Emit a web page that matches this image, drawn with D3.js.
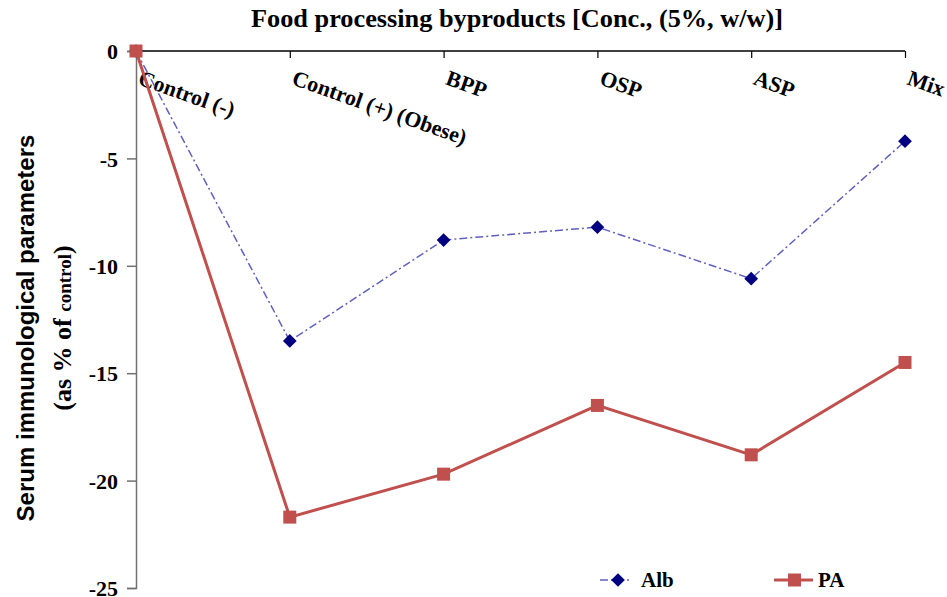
<!DOCTYPE html>
<html><head><meta charset="utf-8">
<script src="https://cdn.jsdelivr.net/npm/d3@7"></script>
<style>body{margin:0;background:#fff}svg{display:block}</style>
</head><body>
<svg id="c" width="947" height="597"></svg>
<script>
const categories = ["Control (-)", "Control (+) (Obese)", "BPP", "OSP", "ASP", "Mix"];
const albValues = [0, -13.5, -8.8, -8.2, -10.6, -4.2];
const paValues = [0, -21.7, -19.7, -16.5, -18.8, -14.5];
const yTicks = [0, -5, -10, -15, -20, -25];

const svg = d3.select("#c");
const x = d3.scalePoint().domain(categories).range([136, 905]).padding(0);
const y = d3.scaleLinear().domain([-25, 0]).range([588, 51]);

// title
svg.append("text").attr("x", 517).attr("y", 27).attr("text-anchor", "middle")
  .attr("font-family", "Liberation Serif").attr("font-weight", "bold").attr("font-size", 26)
  .attr("textLength", 532).attr("lengthAdjust", "spacingAndGlyphs")
  .text("Food processing byproducts [Conc., (5%, w/w)]");

// y axis
const yAxis = svg.append("g").attr("transform", "translate(136,0)")
  .call(d3.axisLeft(y).tickValues(yTicks).tickSize(9).tickPadding(9).tickFormat(d3.format("d")));
yAxis.select(".domain").attr("stroke", "#707070").attr("stroke-width", 1.5);
yAxis.selectAll(".tick line").attr("stroke", "#707070").attr("stroke-width", 1.5);
yAxis.selectAll(".tick text").attr("font-family", "Liberation Serif").attr("font-weight", "bold")
  .attr("font-size", 22).attr("fill", "#000").attr("dy", "0.35em").text(d => d === 0 ? "0" : "-" + Math.abs(d));

// top x axis line at y=0
const xAxis = svg.append("g").attr("transform", `translate(0,${y(0)})`)
  .call(d3.axisBottom(x).tickSize(7).tickFormat(""));
xAxis.select(".domain").attr("stroke", "#000").attr("stroke-width", 1.5).attr("d", `M136,0H905`);
xAxis.selectAll(".tick line").attr("stroke", "#000").attr("stroke-width", 1.2);
xAxis.selectAll(".tick").filter((d, i) => i === 0).select("line").remove();

// category labels
svg.append("g").selectAll("text").data(categories).join("text")
  .attr("transform", d => `translate(${x(d) + 1},${y(0) + 33}) rotate(19.5)`)
  .attr("font-family", "Liberation Serif").attr("font-weight", "bold").attr("font-size", 22)
  .attr("fill", "#000").text(d => d);

// y title
svg.append("text").attr("transform", "translate(34,328) rotate(-90)").attr("text-anchor", "middle")
  .attr("font-family", "Liberation Sans").attr("font-weight", "bold").attr("font-size", 24)
  .text("Serum immunological parameters");
const t2 = svg.append("text").attr("transform", "translate(71,328) rotate(-90)").attr("text-anchor", "middle")
  .attr("font-family", "Liberation Serif").attr("font-weight", "bold").attr("font-size", 26);
t2.append("tspan").text("(as % of ");
t2.append("tspan").attr("font-size", 19).text("control");
t2.append("tspan").text(")");

// lines
const line = d3.line().x((d, i) => x(categories[i])).y(d => y(d));
svg.append("path").datum(albValues).attr("d", line).attr("fill", "none")
  .attr("stroke", "#6060c0").attr("stroke-width", 1.5).attr("stroke-dasharray", "8,3,2,3");
svg.append("path").datum(paValues).attr("d", line).attr("fill", "none")
  .attr("stroke", "#c0504d").attr("stroke-width", 3);

const diamond = d3.symbol().type(d3.symbolDiamond2).size(120);
svg.append("g").selectAll("path").data(albValues).join("path")
  .attr("transform", (d, i) => `translate(${x(categories[i])},${y(d)})`)
  .attr("d", diamond).attr("fill", "#000080");
svg.append("g").selectAll("rect").data(paValues).join("rect")
  .attr("x", (d, i) => x(categories[i]) - 6.5).attr("y", d => y(d) - 6.5)
  .attr("width", 13).attr("height", 13).attr("fill", "#c0504d");

// legend
const lg = svg.append("g");
lg.append("line").attr("x1", 600).attr("x2", 632).attr("y1", 580).attr("y2", 580)
  .attr("stroke", "#6060c0").attr("stroke-width", 1.5).attr("stroke-dasharray", "8,3,2,3");
lg.append("path").attr("transform", "translate(618,580)").attr("d", diamond).attr("fill", "#000080");
lg.append("text").attr("x", 641).attr("y", 587).attr("font-family", "Liberation Serif")
  .attr("font-weight", "bold").attr("font-size", 21).text("Alb");
lg.append("line").attr("x1", 774).attr("x2", 813).attr("y1", 580).attr("y2", 580)
  .attr("stroke", "#c0504d").attr("stroke-width", 3);
lg.append("rect").attr("x", 788).attr("y", 573.5).attr("width", 13).attr("height", 13).attr("fill", "#c0504d");
lg.append("text").attr("x", 818).attr("y", 587).attr("font-family", "Liberation Serif")
  .attr("font-weight", "bold").attr("font-size", 21).text("PA");
</script>
</body></html>
